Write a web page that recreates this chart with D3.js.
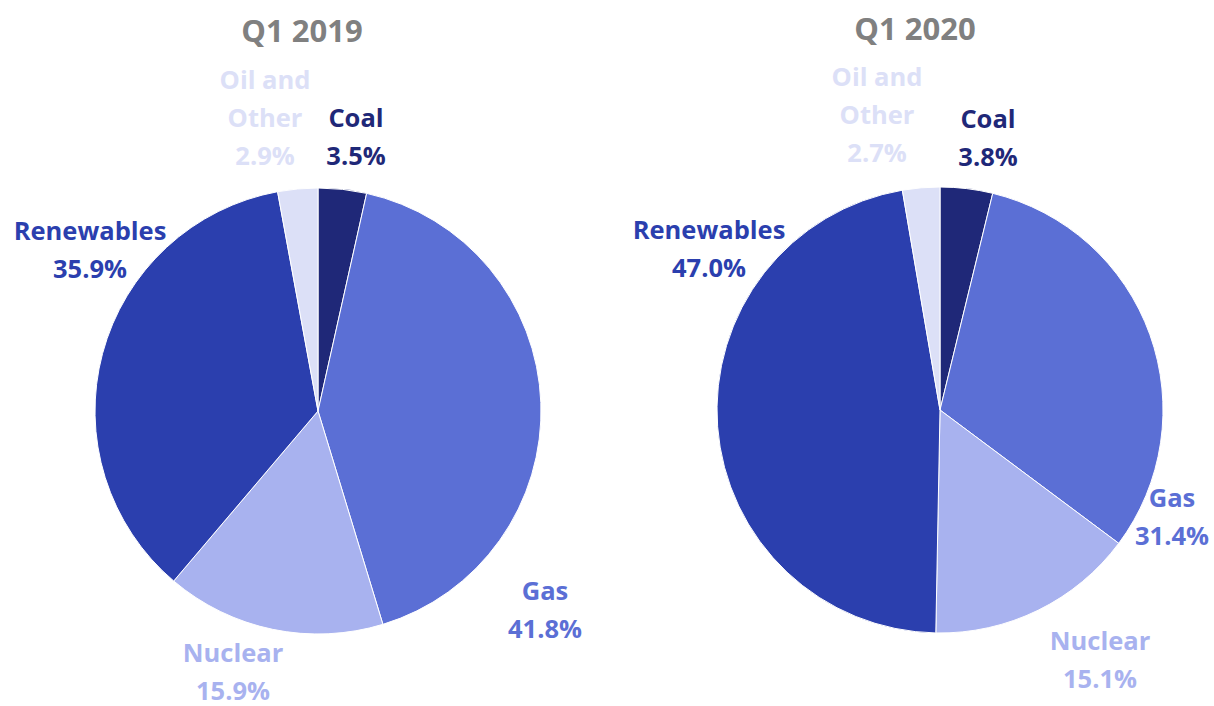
<!DOCTYPE html>
<html><head><meta charset="utf-8">
<script src="https://cdn.jsdelivr.net/npm/d3@7"></script>
<style>body{margin:0;background:#fff}svg{display:block}</style>
</head><body>
<svg id="c" width="1214" height="706"></svg>
<script>
const categories = ["Coal", "Gas", "Nuclear", "Renewables", "Oil and Other"];
const labelLines = [["Coal"], ["Gas"], ["Nuclear"], ["Renewables"], ["Oil and", "Other"]];
const colors = ["#1f2878", "#5b6fd5", "#a8b2ef", "#2b3fae", "#dce0f7"];
const titles = ["Q1 2019", "Q1 2020"];
const values2019 = [3.5, 41.8, 15.9, 35.9, 2.9];
const values2020 = [3.8, 31.4, 15.1, 47.0, 2.7];

// layout (positions only)
const charts = [
  {title: titles[0], values: values2019, cx: 318, cy: 411, r: 223, tx: 302, ty: 42,
   lbl: [[356,137],[545,610],[233,672],[90,250],[265,118]]},
  {title: titles[1], values: values2020, cx: 940, cy: 410, r: 223, tx: 915, ty: 40,
   lbl: [[988,138],[1172,517],[1100,660],[709,249],[877,115]]}
];

const svg = d3.select("#c");
const pie = d3.pie().sort(null).value(d => d);
const font = "'Open Sans', Lato, sans-serif";

charts.forEach(ch => {
  const g = svg.append("g").attr("transform", `translate(${ch.cx},${ch.cy})`);
  const arc = d3.arc().innerRadius(0).outerRadius(ch.r);
  const arcs = pie(ch.values);
  g.selectAll("path").data(arcs).join("path")
    .attr("d", arc)
    .attr("fill", (d, i) => colors[i])
    .attr("stroke", "#fff").attr("stroke-width", 1);

  svg.append("text").attr("x", ch.tx).attr("y", ch.ty)
    .attr("text-anchor", "middle")
    .attr("font-family", font).attr("font-weight", 700).attr("font-size", 31)
    .attr("fill", "#808080").text(ch.title);

  arcs.forEach((d, i) => {
    const lines = labelLines[i].concat([d.data.toFixed(1) + "%"]);
    const [lx, ly] = ch.lbl[i];
    const lh = 38;
    const y0 = ly - (lines.length - 1) * lh / 2;
    const t = svg.append("text").attr("text-anchor", "middle")
      .attr("font-family", font).attr("font-weight", 700).attr("font-size", 25.5)
      .attr("fill", colors[i]);
    lines.forEach((s, k) => {
      t.append("tspan").attr("x", lx).attr("y", y0 + k * lh).attr("dy", "0.35em").text(s);
    });
  });
});
</script>
</body></html>
